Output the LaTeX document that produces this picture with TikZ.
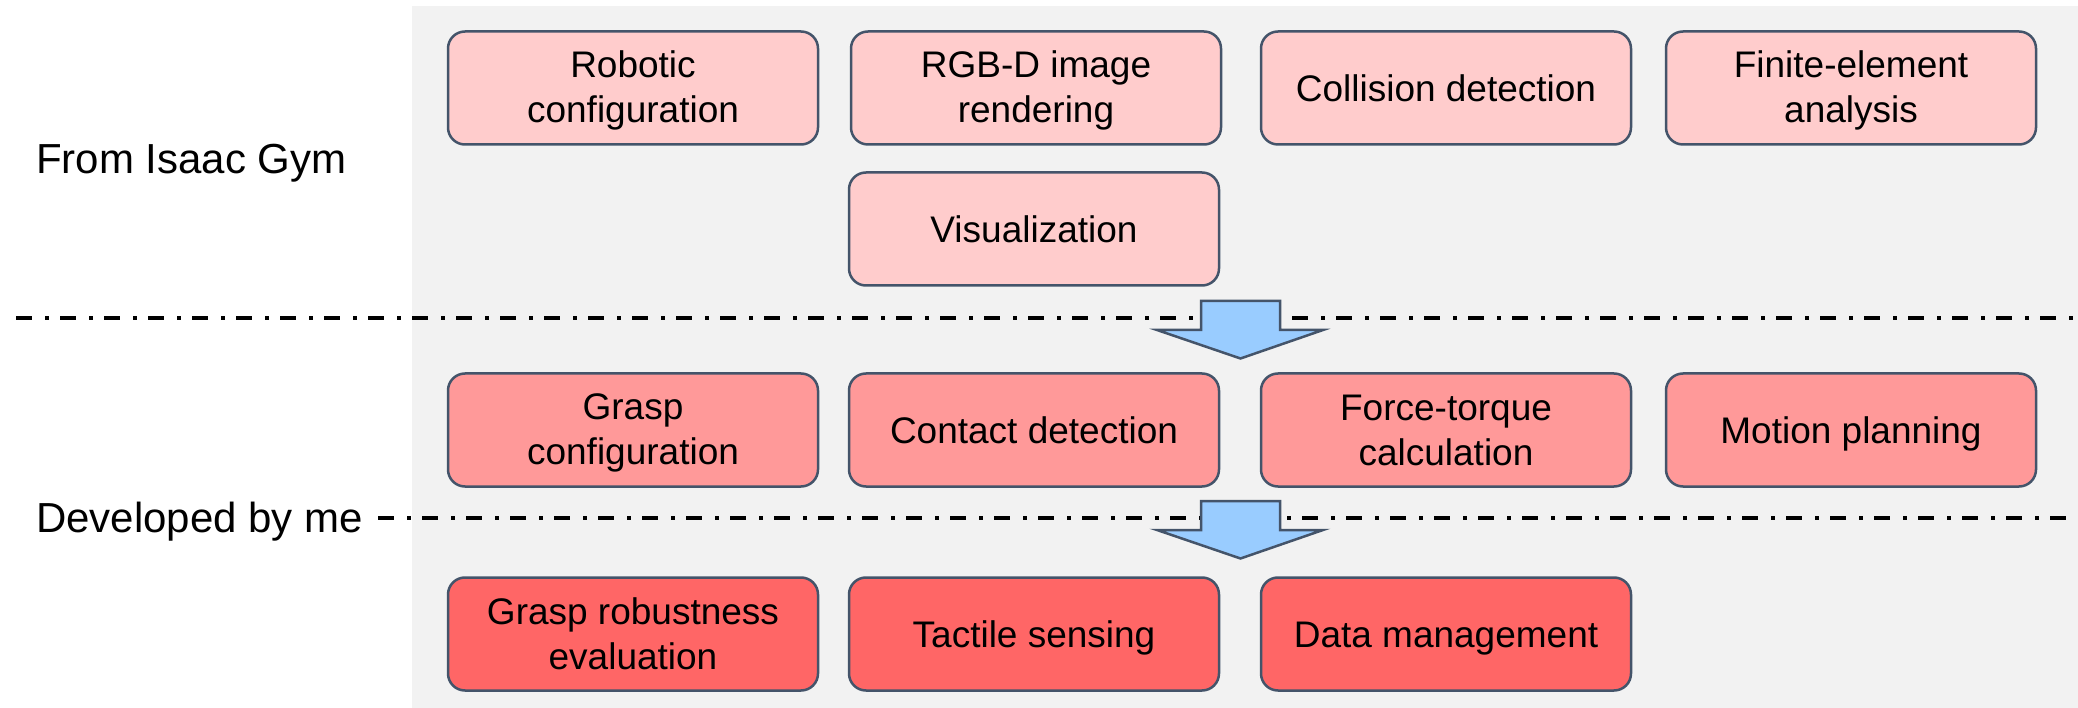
\documentclass[tikz,border=0pt]{standalone}
\usepackage{fontspec}
\setmainfont{Liberation Sans}
\definecolor{edge}{HTML}{44546A}
\definecolor{bggrey}{HTML}{F2F2F2}
\definecolor{pinkA}{HTML}{FFCCCC}
\definecolor{pinkB}{HTML}{FF9999}
\definecolor{pinkC}{HTML}{FF6666}
\definecolor{arrowblue}{HTML}{99CCFF}
\newcommand{\boxstrut}{\rule[-7pt]{0pt}{41pt}}
\newcommand{\tallstrut}{\rule{0pt}{32.5pt}}
\newcommand{\oneline}[1]{\boxstrut#1}
\newcommand{\twolines}[2]{\tallstrut#1\\#2\boxstrut}
\begin{document}
\begin{tikzpicture}[x=1pt,y=-1pt,
  box/.style={draw=edge, line width=2.5pt, rounded corners=17pt, minimum width=370pt,
    minimum height=113pt, align=center, inner sep=0pt, font=\fontsize{37}{45}\selectfont},
  rowA/.style={box, fill=pinkA},
  rowB/.style={box, fill=pinkB},
  rowC/.style={box, fill=pinkC},
  lbl/.style={anchor=base west, inner sep=0pt, font=\fontsize{42}{46}\selectfont},
  sepline/.style={line width=3.3pt, dash pattern=on 16pt off 13pt on 3.5pt off 11.5pt},
  blockarrow/.style={draw=edge, line width=2.5pt, fill=arrowblue, line join=miter}]
\useasboundingbox (0,0) rectangle (2078,708);
\fill[bggrey] (412,6) rectangle (2078,708);

% row 1
\node[rowA] (robot) at (633,88) {\twolines{Robotic}{configuration}};
\node[rowA] (rgbd) at (1036,88) {\twolines{RGB-D image}{rendering}};
\node[rowA] (coll) at (1446,88) {\oneline{Collision detection}};
\node[rowA] (fea) at (1851,88) {\twolines{Finite-element}{analysis}};
\node[rowA] (vis) at (1034,229) {\oneline{Visualization}};

% row 2
\node[rowB] (grasp) at (633,430) {\twolines{Grasp}{configuration}};
\node[rowB] (contact) at (1034,430) {\oneline{Contact detection}};
\node[rowB] (force) at (1446,430) {\twolines{Force-torque}{calculation}};
\node[rowB] (motion) at (1851,430) {\oneline{Motion planning}};

% row 3
\node[rowC] (robust) at (633,634) {\twolines{Grasp robustness}{evaluation}};
\node[rowC] (tactile) at (1034,634) {\oneline{Tactile sensing}};
\node[rowC] (data) at (1446,634) {\oneline{Data management}};

% labels
\node[lbl] (lblA) at (36,174) {From Isaac Gym};
\node[lbl] (lblB) at (36,532) {Developed by me};

% separators
\coordinate (s1a) at (16,318);
\coordinate (s1b) at (2078,318);
\coordinate (s2a) at (378,518);
\coordinate (s2b) at (2078,518);
\draw[sepline] (s1a) -- (s1b);
\draw[sepline] (s2a) -- (s2b);

% block arrows
\coordinate (arrA) at (1240.5,301);
\coordinate (arrB) at (1240.5,501);
\foreach \c in {arrA,arrB}{
  \draw[blockarrow] (\c) ++(-39.5,0) -- ++(79,0) -- ++(0,29) -- ++(43,0)
    -- ++(-82.5,28.5) -- ++(-83.5,-28.5) -- ++(44,0) -- cycle;
}
\end{tikzpicture}
\end{document}
